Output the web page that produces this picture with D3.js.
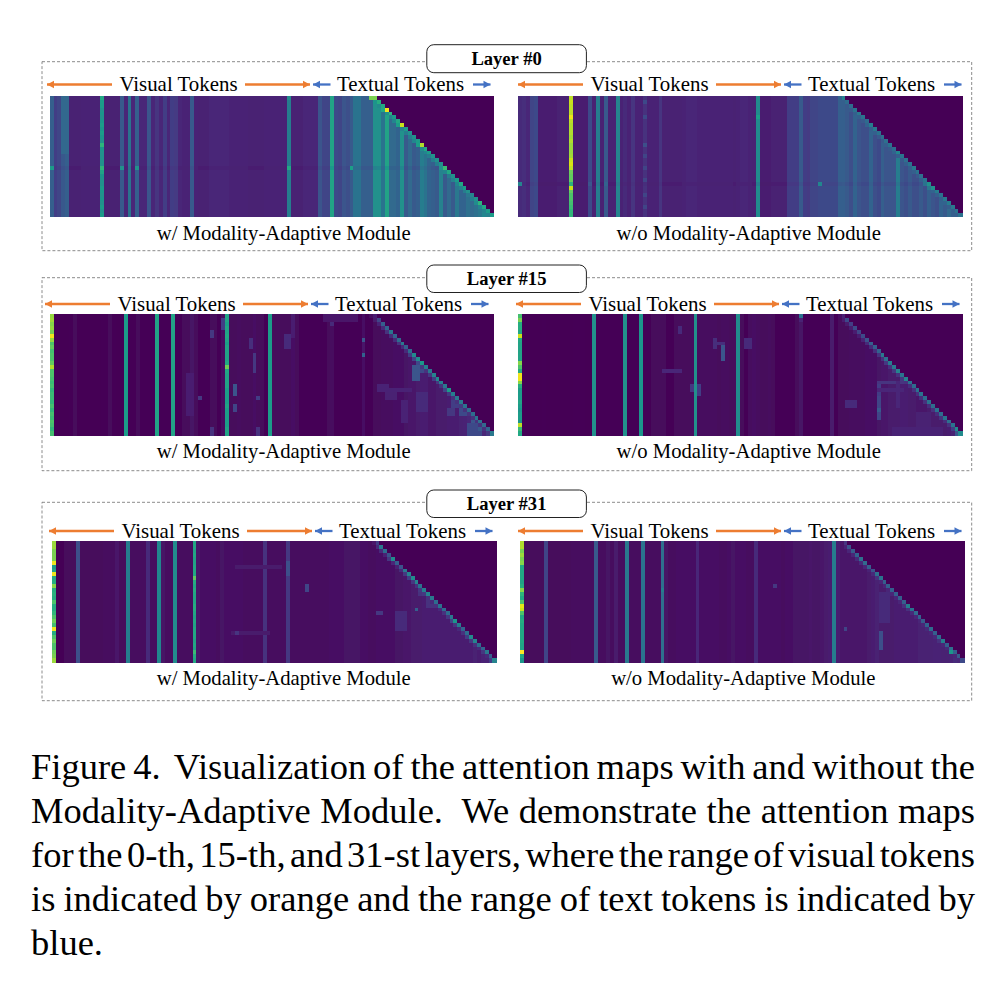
<!DOCTYPE html>
<html><head><meta charset="utf-8">
<script src="https://cdn.jsdelivr.net/npm/d3@7/dist/d3.min.js"></script>
<style>html,body{margin:0;padding:0;background:#fff}svg{display:block}text{font-family:"Liberation Serif",serif;fill:#000;white-space:pre}</style>
</head><body><div id="chart"></div>
<script>
// ---------- data: percent along the colour scale ----------
const layers=["Layer #0","Layer #15","Layer #31"];
const withLabel="w/ Modality-Adaptive Module", withoutLabel="w/o Modality-Adaptive Module";
const visualLabel="Visual Tokens", textualLabel="Textual Tokens";
const captionLines=["Figure 4.  Visualization of the attention maps with and without the","Modality-Adaptive Module.  We demonstrate the attention maps","for the 0-th, 15-th, and 31-st layers, where the range of visual tokens","is indicated by orange and the range of text tokens is indicated by","blue."];
const nCols=114,nRows=31,firstRowCols=84;

const levelsA=[30,18,20,27,30,9,9,9,10,10, 10,10,10,55,9,9,9,9,28,11, 38,11,30,11,11,26,11,15,11,18, 11,18,17,11,10,10,28,10,9,9, 9,11,11,11,11,11,10,10,10,10, 10,9,9,9,9,10,10,10,10,10, 10,42,9,9,9,11,11,11,11,26, 20,20,58,22,20,26,24,28,38,38, 30,30,30,50,50,38,58,34,34,32, 50,28,34,28,30,42,38,32,30,28, 44,28,34,28,40,32,32,36,34,36, 40,46,48,46];
const levelsB=[12,13,11,20,22,8,8,8,8,8, 9,9,9,90,8,8,8,8,22,9, 42,9,28,9,9,45,10,12,10,15, 10,10,14,10,10,10,15,9,9,9, 9,9,10,11,11,11,10,10,10,10, 10,10,10,10,10,9,10,11,11,10, 9,48,8,8,8,9,9,9,9,18, 18,18,28,18,17,20,20,22,22,22, 22,22,30,30,28,24,32,26,24,24, 32,24,22,30,26,26,26,42,26,24, 28,24,24,28,24,30,26,24,32,28, 34,30,30,28];
const levelsC=[80,1,0,0,0,1,2,0,0,0, 0,0,0,1,1,2,1,0,1,55, 1,1,2,1,1,1,1,58,1,1, 1,58,1,1,2,2,5,2,1,1, 1,2,2,1,3,58,2,2,3,2, 2,2,4,2,2,1,55,2,2,2, 2,2,4,2,1,1,1,1,1,1, 1,2,3,1,1,1,1,1,1,1, 4,1,1,2,2,3,3,3,4,4, 4,5,6,6,7,8,8,6,6,7, 7,7,8,8,8,9,10,11,10,10, 11,11,11,13];
const levelsD=[65,1,0,0,0,0,1,0,0,0, 0,0,0,0,1,1,1,0,0,50, 1,1,1,1,1,1,1,50,1,1, 1,52,1,1,2,2,2,2,1,1, 2,2,2,2,3,50,3,3,3,3, 3,2,3,3,2,2,48,2,1,3, 4,3,2,2,3,2,1,1,1,1, 1,2,5,1,1,1,1,1,1,1, 6,1,2,2,2,3,3,3,3,4, 4,4,5,6,6,7,7,7,8,8, 7,7,6,6,6,7,7,7,7,7, 8,9,11,15];
const levelsE=[80,1,1,2,2,2,24,2,2,2, 2,2,2,3,3,3,6,2,2,42, 3,3,3,3,12,3,3,46,5,3, 3,48,3,3,3,3,58,6,4,4, 4,4,3,5,4,4,4,4,4,3, 3,3,3,3,14,3,3,3,3,3, 16,3,3,3,3,3,3,3,3,3, 3,4,4,4,4,5,5,5,5,4, 4,3,3,4,4,4,4,4,5,5, 6,6,7,7,7,8,8,8,8,8, 8,8,8,8,8,8,8,8,9,8, 10,10,11,18];
const levelsF=[78,2,2,2,2,2,20,2,2,2, 2,2,2,3,3,3,3,3,3,28, 3,3,5,3,7,3,3,40,3,3, 3,38,3,3,3,3,36,5,3,3, 4,4,4,4,4,11,4,4,4,4, 4,3,3,4,5,4,4,4,3,3, 12,4,4,4,4,4,4,3,4,4, 5,5,5,5,6,5,5,6,7,8, 42,8,6,6,6,6,6,6,6,7, 8,9,7,7,7,7,8,8,8,8, 8,8,9,9,9,9,10,10,9,9, 10,12,13,16];

const diagA=[80,62,60,98,65,55,60,92,55,50, 50,55,88,60,55,50,50,50,68,60, 50,55,60,55,50,45,50,65,60,55,55];
const diagB=[45,35,35,38,40,38,35,42,40,38, 36,36,38,35,46,38,36,38,40,38, 36,38,50,50,42,38,40,42,40,38,38];
const diagC=[8,20,30,32,38,32,35,40,30,35, 48,48,52,42,40,45,48,42,40,55, 42,40,40,38,35,35,38,36,34,32,40];
const diagD=[10,22,18,22,20,22,25,30,30,32, 40,36,42,40,45,38,45,38,35,38, 38,35,38,35,38,35,38,36,38,48,48];
const diagE=[18,40,35,25,48,30,25,40,45,48, 45,38,42,44,40,35,38,35,35,40, 52,42,32,35,48,45,35,32,40,30,45];
const diagF=[15,25,28,32,36,34,30,25,36,38, 30,30,30,30,30,30,42,38,34,32, 28,32,35,30,35,42,30,36,30,28,22];

const subDiagA=[80,52,48,60,50,44,46,56,44,42, 42,46,56,48,46,42,42,42,50,46, 42,44,46,44,42,40,42,48,46,44,44];
const subDiagB=[32,30,28,28,30,30,28,32,30,30, 28,28,30,28,32,30,28,30,30,30, 28,30,38,40,32,30,30,32,30,30,30];
const subDiagC=[3,7,10,12,14,12,12,14,12,12, 18,20,22,16,14,16,18,16,14,20, 16,14,14,16,14,14,14,14,14,14,16];
const subDiagD=[4,8,7,8,8,8,10,12,12,13, 14,14,16,14,16,14,16,14,13,14, 14,13,14,13,14,13,14,13,14,18,26];
const subDiagE=[6,12,12,10,16,11,9,12,16,18, 16,14,16,16,14,12,14,12,14,16, 20,16,12,14,18,16,14,12,16,12,18];
const subDiagF=[6,10,11,11,12,12,11,10,12,14, 11,11,11,11,11,11,14,14,12,11, 11,11,12,11,12,14,11,12,52,11,11];

// full-height columns whose value changes row by row: [column, values per row]
const detailA=[[13,[60,55,55,50,52,50,52,55,52,55, 52,50,65,52,50,50,50,50,65,58, 52,50,50,55,52,50,52,50,55,50,55]]];
const detailB=[[13,[90,92,90,90,90,97,90,88,88,88, 86,88,85,85,85,86,92,94,90,78, 76,76,70,92,76,72,72,70,68,66,66]]];
const detailC=[[0,[84,86,82,84,80,98,84,72,76,70, 72,72,76,88,72,72,70,68,70,66, 68,68,66,70,66,70,68,72,70,66,70]],[45,[58,58,56,58,58,60,58,56,58,58, 58,58,60,78,60,58,58,58,58,56, 56,56,56,58,56,56,56,56,56,58,58]]];
const detailD=[[0,[70,80,62,62,60,92,60,58,58,58, 58,58,82,72,62,98,98,82,62,55, 55,55,58,55,52,55,55,52,90,68,60]]];
const detailE=[[0,[85,85,80,80,80,98,55,58,98,60, 62,82,62,64,62,72,62,62,66,72, 78,70,98,62,72,78,72,72,78,80,85]],[36,[60,60,58,60,58,58,60,60,60,75, 62,60,62,60,60,60,62,62,60,58, 60,58,60,60,60,58,60,58,68,62,60]]];
const detailF=[[0,[88,88,80,85,80,82,60,60,60,60, 58,62,82,65,60,72,96,92,72,60, 62,60,60,60,60,60,58,58,100,60,52]]];

// row brightness read from the horizontal banding
const gainA=[1,1,1,1,1,1,1,1,1,1, 1,1,1,1,1,1,1,1,.92,1, 1,1,1,1,1,1,1,1,1,1,1];
const gainB=[1,1,1,1,1,1,1,1,1,1, 1,1,1,1,1,1,1,1,1,1, 1,1,.92,1,1,1,1,1,1,1,1];

// local patches: [firstRow,lastRow,firstCol,lastCol,value]
const patchesA=[[0,14,3,4,33],[18,18,0,0,55],[18,18,18,18,50],[18,18,22,22,50],[18,18,61,61,60],[18,18,77,77,56],[18,18,83,83,44],[18,18,13,13,65],[0,0,61,61,48]];
const patchesB=[[22,22,0,0,45],[22,22,18,18,26],[22,22,22,22,32],[22,22,61,61,42],[22,22,77,77,46],[22,22,83,83,28],[5,5,61,61,56],[1,1,32,32,22],[5,5,32,32,22],[12,12,32,32,24],[15,15,32,32,20],[18,18,32,32,20],[21,21,32,32,20],[25,25,32,32,20],[28,28,32,32,20]];
const patchesC=[[1,3,44,44,18],[4,5,41,41,16],[18,20,47,47,26],[23,24,47,47,20],[10,14,52,52,16],[6,8,51,51,13],[15,25,35,36,8],[21,21,38,38,16],[21,21,53,53,18],[29,30,53,53,14],[29,30,41,41,14],[5,8,60,61,12],[0,5,62,62,8],[6,6,80,80,26],[10,10,80,80,32],[7,9,80,80,6],[0,0,72,72,30],[1,2,72,72,12],[0,1,70,78,6],[11,14,94,95,22],[13,16,93,94,26],[18,19,84,86,10],[20,21,86,88,9],[19,19,85,92,10],[20,24,94,96,12],[22,27,90,91,10],[22,23,103,104,18],[24,25,102,103,16],[24,25,105,106,22],[26,27,108,109,26],[28,30,107,110,22],[27,29,110,111,28]];
const patchesD=[[8,11,52,52,26],[7,7,51,52,13],[6,8,50,50,13],[18,20,46,46,18],[18,19,44,44,16],[3,4,41,41,12],[6,8,58,59,12],[14,14,37,41,11],[0,0,72,72,38],[1,1,72,72,10],[0,30,80,80,7],[17,23,92,92,18],[17,17,92,98,15],[19,19,92,98,11],[17,23,97,97,11],[21,26,92,92,20],[24,24,92,92,28],[22,23,84,86,12],[25,28,102,105,9],[29,30,96,108,10],[29,30,112,113,44]];
const patchesE=[[11,12,65,65,20],[6,6,47,58,7],[23,23,46,55,7],[23,23,47,47,15],[5,8,60,60,24],[18,18,83,84,16],[17,17,93,93,30],[18,22,88,90,12],[11,13,94,95,14],[14,16,96,97,14]];
const patchesF=[[11,11,65,65,16],[23,27,92,92,24],[13,20,92,94,12],[22,22,83,83,20],[12,12,36,36,42]];

// ---------- layout ----------
const boxes=[{y0:61.7,y1:250.7,ty0:44.7,ty1:72.7,tb:65},{y0:277.7,y1:470.7,ty0:265,ty1:292.5,tb:284.5},{y0:502.3,y1:700.7,ty0:490,ty1:517.5,tb:509.5}];
const panels=[
 {x0:49.7,y0:96,  lx:47, ly:84.5,cx:283.7,cy:240, label:withLabel,   levels:levelsA,diag:diagA,sub:subDiagA,detail:detailA,patches:patchesA,gain:gainA},
 {x0:518.3,y0:96, lx:518,ly:84.5,cx:748.7,cy:240, label:withoutLabel,levels:levelsB,diag:diagB,sub:subDiagB,detail:detailB,patches:patchesB,gain:gainB},
 {x0:50,y0:314.3, lx:45, ly:304, cx:283.7,cy:458, label:withLabel,   levels:levelsC,diag:diagC,sub:subDiagC,detail:detailC,patches:patchesC},
 {x0:518.3,y0:314.3,lx:516,ly:304,cx:748.7,cy:458,label:withoutLabel,levels:levelsD,diag:diagD,sub:subDiagD,detail:detailD,patches:patchesD},
 {x0:52.3,y0:541.3,lx:49, ly:531, cx:283.7,cy:685,label:withLabel,   levels:levelsE,diag:diagE,sub:subDiagE,detail:detailE,patches:patchesE},
 {x0:520.3,y0:541.3,lx:518,ly:531,cx:743.3,cy:685,label:withoutLabel,levels:levelsF,diag:diagF,sub:subDiagF,detail:detailF,patches:patchesF}
];
const mapW=444,mapH=120.8,orange="#ed7d31",blue="#4472c4";
const color=d3.scaleSequential(d3.interpolateViridis).domain([0,100]);

const svg=d3.select("#chart").append("svg").attr("width",998).attr("height",998).attr("viewBox","0 0 998 998");
svg.append("defs").append("filter").attr("id","soft").attr("x","-2%").attr("y","-2%").attr("width","104%").attr("height","104%")
  .append("feGaussianBlur").attr("stdDeviation",0.65);

function cellValue(p,r,c){
  if(c>=firstRowCols+r) return 0;
  let v=p.levels[c];
  const d=p.detail.find(e=>e[0]===c);
  if(d) v=d[1][r];
  if(p.gain) v*=p.gain[r];
  for(const q of p.patches) if(r>=q[0]&&r<=q[1]&&c>=q[2]&&c<=q[3]) v=q[4];
  if(c===firstRowCols-1+r) v=p.diag[r];
  else if(c===firstRowCols-2+r) v=p.sub[r];
  return v;
}

// dashed frames and layer titles
boxes.forEach((b,i)=>{
  svg.append("rect").attr("x",42).attr("y",b.y0).attr("width",929.7).attr("height",b.y1-b.y0)
    .attr("fill","none").attr("stroke","#7f7f7f").attr("stroke-width",0.9).attr("stroke-dasharray","3 2");
  svg.append("rect").attr("x",426.8).attr("y",b.ty0).attr("width",159.6).attr("height",b.ty1-b.ty0).attr("rx",7)
    .attr("fill","#fff").attr("stroke","#222").attr("stroke-width",1);
  svg.append("text").attr("x",506.6).attr("y",b.tb).attr("text-anchor","middle")
    .attr("font-size",18.6).attr("font-weight","bold").text(layers[i]);
});

function arrow(g,x1,x2,y,col,dir){
  // dir -1: head at left, 1: head at right
  g.append("line").attr("x1",x1).attr("x2",x2).attr("y1",y).attr("y2",y).attr("stroke",col).attr("stroke-width",2.3);
  const tip=dir<0?x1:x2, base=tip-dir*7;
  g.append("path").attr("d",d3.line()([[tip,y],[base,y-3.8],[base,y+3.8]])+"Z").attr("fill",col);
}

panels.forEach(p=>{
  const x=d3.scaleBand().domain(d3.range(nCols)).range([p.x0,p.x0+mapW]);
  const y=d3.scaleBand().domain(d3.range(nRows)).range([p.y0,p.y0+mapH]);
  const cells=d3.cross(d3.range(nRows),d3.range(nCols)).map(([r,c])=>({r,c,v:cellValue(p,r,c)}));
  svg.append("g").attr("filter","url(#soft)").selectAll("rect").data(cells).join("rect")
    .attr("x",d=>x(d.c)).attr("y",d=>y(d.r))
    .attr("width",x.bandwidth()+0.4).attr("height",y.bandwidth()+0.4)
    .attr("fill",d=>color(d.v)).attr("shape-rendering","crispEdges");

  const g=svg.append("g").attr("transform",`translate(${p.lx},${p.ly})`);
  arrow(g,0,65,0,orange,-1);
  arrow(g,198,263,0,orange,1);
  arrow(g,266,283.5,0,blue,-1);
  arrow(g,426,443.5,0,blue,1);
  g.append("text").attr("x",131.5).attr("y",6.8).attr("text-anchor","middle").attr("font-size",20.9).text(visualLabel);
  g.append("text").attr("x",353.5).attr("y",6.8).attr("text-anchor","middle").attr("font-size",20.9).text(textualLabel);
  svg.append("text").attr("x",p.cx).attr("y",p.cy).attr("text-anchor","middle").attr("font-size",20.7).text(p.label);
});

// figure caption, justified across the column
const capX=31,capW=944,capY=d3.scaleLinear().domain([0,4]).range([779,955]);
captionLines.forEach((line,i)=>{
  const t=svg.append("text").attr("x",capX).attr("y",capY(i)).attr("font-size",36.5).text(line);
  if(i<captionLines.length-1){
    const gaps=line.split(" ").length-1;
    const extra=(capW-t.node().getComputedTextLength())/gaps;
    t.attr("word-spacing",extra);
  }
});
</script></body></html>
